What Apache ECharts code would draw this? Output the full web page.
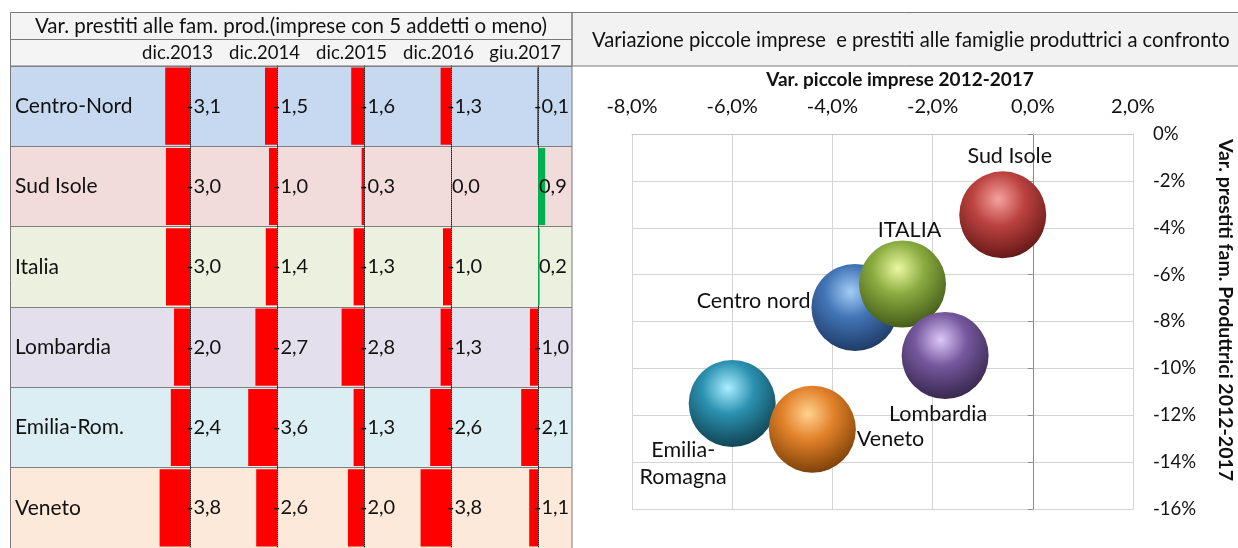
<!DOCTYPE html>
<html>
<head>
<meta charset="utf-8">
<script src="https://cdn.jsdelivr.net/npm/echarts@6/dist/echarts.min.js"></script>
<style>
  html, body { margin: 0; padding: 0; background: #fff; }
  #chart { width: 1238px; height: 548px; }
</style>
</head>
<body>
<div id="chart"></div>
<script>
// table: var. prestiti alle famiglie produttrici
var rowNames = ['Centro-Nord', 'Sud Isole', 'Italia', 'Lombardia', 'Emilia-Rom.', 'Veneto']
var periods = ['dic.2013', 'dic.2014', 'dic.2015', 'dic.2016', 'giu.2017']
var loansDic2013 = [-3.1, -3.0, -3.0, -2.0, -2.4, -3.8]
var loansDic2014 = [-1.5, -1.0, -1.4, -2.7, -3.6, -2.6]
var loansDic2015 = [-1.6, -0.3, -1.3, -2.8, -1.3, -2.0]
var loansDic2016 = [-1.3, 0.0, -1.0, -1.3, -2.6, -3.8]
var loansGiu2017 = [-0.1, 0.9, 0.2, -1.0, -2.1, -1.1]

// bolle: var. piccole imprese vs var. prestiti 2012-2017
var bubbleNames = ['Centro nord', 'Sud Isole', 'ITALIA', 'Lombardia', 'Emilia-\nRomagna', 'Veneto']
var firmsChange = [-3.55, -0.6, -2.6, -1.75, -6.0, -4.4]
var loansChange = [-7.4, -3.45, -6.4, -9.45, -11.5, -12.6]
var xTicks = [-8, -6, -4, -2, 0, 2]
var yTicks = [0, -2, -4, -6, -8, -10, -12, -14, -16]

var FONT = 'Lato, "Open Sans", sans-serif'
var rowColors = ['#c6d9f1', '#f2dcdb', '#ebf1de', '#e4dfec', '#daeef3', '#fde9d9']
var colAxisX = [190, 277, 364, 451, 538] // posizione asse delle barre in ogni colonna
var tableTop = 66
var tableHeight = 489

function fmt(v) {
  return v.toFixed(1).replace('.', ',')
}

function sphere(c) {
  return new echarts.graphic.RadialGradient(0.45, 0.32, 0.75, [
    { offset: 0, color: c[0] },
    { offset: 0.4, color: c[1] },
    { offset: 0.8, color: c[2] },
    { offset: 1, color: c[3] }
  ])
}

var sphereColors = [
  ['#a3ccf7', '#4275b5', '#27487a', '#1a3253'],
  ['#f5a29e', '#bc4340', '#7a2220', '#521513'],
  ['#ecf8a2', '#8aab40', '#546e22', '#3a4d16'],
  ['#dcc8f7', '#76589e', '#45325f', '#2f2242'],
  ['#a9eeff', '#2b91b0', '#175568', '#0f3a47'],
  ['#ffd28e', '#e2812a', '#95500f', '#683609']
]
// posizione etichette bolle
var labelPlace = [
  { position: 'left', distance: 1, offset: [0, -6] },
  { position: 'top', distance: 2, offset: [7, 0] },
  { position: 'top', distance: -3, offset: [7, 0] },
  { position: 'bottom', distance: 2, offset: [-7, 0] },
  { position: 'bottom', distance: 0, offset: [-49, -10] },
  { position: 'right', distance: 1, offset: [0, 10] }
]

var chart = echarts.init(document.getElementById('chart'))

var columns = [loansDic2013, loansDic2014, loansDic2015, loansDic2016, loansGiu2017]

var grids = [{ left: 10, top: tableTop, width: 562, height: tableHeight }]
var xAxes = [{ gridIndex: 0, type: 'value', show: false }]
var yAxes = [{
  gridIndex: 0,
  type: 'category',
  data: rowNames,
  inverse: true,
  axisLine: { show: false },
  axisTick: { show: false },
  axisLabel: { inside: true, margin: 5, fontSize: 21, color: '#111', fontFamily: FONT },
  splitLine: { show: true, lineStyle: { color: '#808080' } },
  splitArea: { show: true, areaStyle: { color: rowColors } }
}]
var series = []

columns.forEach(function (vals, i) {
  grids.push({ left: colAxisX[i] - 48, top: tableTop, width: 80, height: tableHeight })
  xAxes.push({ gridIndex: i + 1, type: 'value', min: -6, max: 4, show: false })
  yAxes.push({
    gridIndex: i + 1,
    type: 'category',
    data: rowNames,
    inverse: true,
    axisLine: { show: true, onZero: true, lineStyle: { type: 'dotted', color: '#222', width: 1 } },
    axisTick: { show: false },
    axisLabel: { show: false }
  })
  series.push({
    type: 'bar',
    xAxisIndex: i + 1,
    yAxisIndex: i + 1,
    barCategoryGap: '4%',
    z: 3,
    data: vals.map(function (v) {
      return {
        value: v,
        itemStyle: { color: v < 0 ? '#ff0000' : '#00b050' },
        label: v < 0 ? { position: 'right', distance: -4 } : { position: 'insideLeft', distance: 1 }
      }
    }),
    label: {
      show: true,
      fontSize: 20,
      color: '#111',
      fontFamily: FONT,
      formatter: function (p) { return fmt(p.value) }
    }
  })
})

// grafico a bolle
grids.push({ left: 632, top: 134, width: 501, height: 375 })
xAxes.push({
  gridIndex: 6,
  type: 'value',
  min: xTicks[0],
  max: xTicks[xTicks.length - 1],
  interval: 2,
  position: 'top',
  axisLine: { show: true, onZero: false, lineStyle: { color: '#c8c8c8' } },
  axisTick: { show: false },
  axisLabel: {
    margin: 17,
    fontSize: 20,
    color: '#111',
    fontFamily: FONT,
    formatter: function (v) { return fmt(v) + '%' }
  },
  splitLine: { show: true, lineStyle: { color: '#d4d4d4' } }
})
yAxes.push({
  gridIndex: 6,
  type: 'value',
  min: yTicks[yTicks.length - 1],
  max: yTicks[0],
  interval: 2,
  position: 'right',
  axisLine: { show: true, onZero: false, lineStyle: { color: '#d4d4d4' } },
  axisTick: { show: false },
  axisLabel: {
    margin: 20,
    fontSize: 18.5,
    color: '#111',
    fontFamily: FONT,
    formatter: function (v) { return v + '%' }
  },
  splitLine: { show: true, lineStyle: { color: '#d4d4d4' } }
})
// asse verticale sullo zero
yAxes.push({
  gridIndex: 6,
  type: 'value',
  min: yTicks[yTicks.length - 1],
  max: yTicks[0],
  interval: 2,
  position: 'left',
  axisLine: { show: true, onZero: true, lineStyle: { color: '#8c8c8c' } },
  axisTick: { show: true, length: 5, lineStyle: { color: '#8c8c8c' } },
  axisLabel: { show: false },
  splitLine: { show: false }
})

series.push({
  type: 'scatter',
  xAxisIndex: 6,
  yAxisIndex: 6,
  symbolSize: 87,
  z: 4,
  itemStyle: { opacity: 1 },
  data: bubbleNames.map(function (n, i) {
    return {
      name: n,
      value: [firmsChange[i], loansChange[i]],
      itemStyle: { color: sphere(sphereColors[i]), opacity: 1 },
      label: labelPlace[i]
    }
  }),
  label: {
    show: true,
    fontSize: 21.5,
    lineHeight: 27,
    color: '#111',
    opacity: 1,
    fontFamily: FONT,
    formatter: function (p) { return p.name }
  }
})

var graphics = [
  // riquadro tabella
  { type: 'rect', z: -1, shape: { x: 10, y: 12.5, width: 562, height: 53.5 }, style: { fill: '#f4f4f4' } },
  { type: 'rect', z: 10, silent: true, shape: { x: 10.5, y: 12.5, width: 561.5, height: 560 }, style: { fill: null, stroke: '#7a7a7a', lineWidth: 1 } },
  { type: 'line', z: 10, shape: { x1: 10, y1: 39.5, x2: 572, y2: 39.5 }, style: { stroke: '#7a7a7a', lineWidth: 1 } },
  { type: 'line', z: 10, shape: { x1: 10, y1: 66, x2: 572, y2: 66 }, style: { stroke: '#7a7a7a', lineWidth: 1 } },
  {
    type: 'text', z: 10, x: 291, y: 26,
    style: { text: 'Var. prestiti alle fam. prod.(imprese con 5 addetti o meno)', fontSize: 20.5, fontFamily: FONT, fill: '#111', align: 'center', verticalAlign: 'middle' }
  },
  // riquadro titolo grafico
  { type: 'rect', z: 9, shape: { x: 572, y: 12.5, width: 680, height: 53.5 }, style: { fill: '#f2f2f2', stroke: '#7a7a7a', lineWidth: 1 } },
  {
    type: 'text', z: 10, x: 592, y: 40,
    style: { text: 'Variazione piccole imprese  e prestiti alle famiglie produttrici a confronto', fontSize: 20.2, fontFamily: FONT, fill: '#111', align: 'left', verticalAlign: 'middle' }
  },
  // titoli assi
  {
    type: 'text', z: 10, x: 900, y: 80,
    style: { text: 'Var. piccole imprese 2012-2017', fontSize: 19, fontWeight: 'bold', fontFamily: FONT, fill: '#111', align: 'center', verticalAlign: 'middle' }
  },
  {
    type: 'text', z: 10, x: 1225, y: 310, rotation: -Math.PI / 2,
    style: { text: 'Var. prestiti fam. Produttrici 2012-2017', fontSize: 19.5, fontWeight: 'bold', fontFamily: FONT, fill: '#111', align: 'center', verticalAlign: 'middle' }
  }
]
periods.forEach(function (p, i) {
  graphics.push({
    type: 'text', z: 10, x: colAxisX[i] + 23, y: 53,
    style: { text: p, fontSize: 18.5, fontFamily: FONT, fill: '#111', align: 'right', verticalAlign: 'middle' }
  })
})

var option = {
  animation: false,
  textStyle: { fontFamily: FONT },
  grid: grids,
  xAxis: xAxes,
  yAxis: yAxes,
  series: series,
  graphic: graphics
}

chart.setOption(option)
</script>
</body>
</html>
